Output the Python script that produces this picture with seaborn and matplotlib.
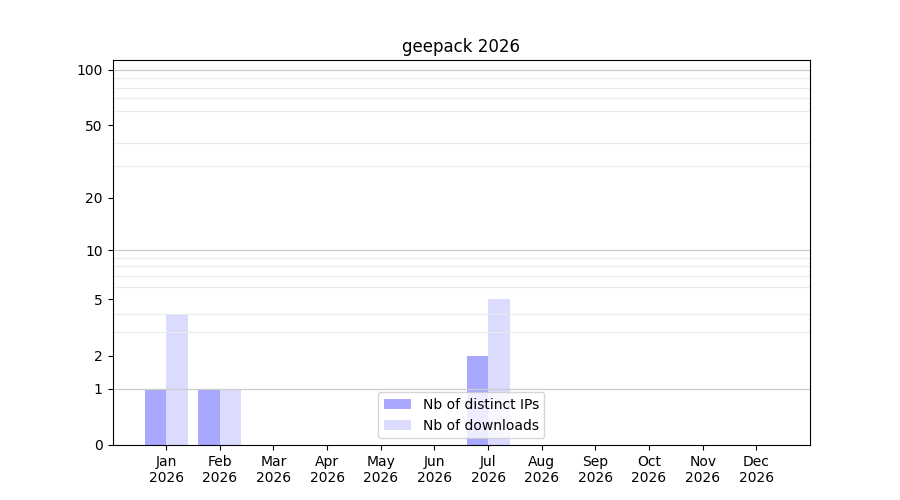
import numpy as np
import pandas as pd
import matplotlib
matplotlib.use("Agg")
import matplotlib.pyplot as plt
import seaborn as sns

months = ['Jan', 'Feb', 'Mar', 'Apr', 'May', 'Jun', 'Jul', 'Aug', 'Sep', 'Oct', 'Nov', 'Dec']
year = 2026
distinct_ips = [1, 1, 0, 0, 0, 0, 2, 0, 0, 0, 0, 0]
downloads = [4, 1, 0, 0, 0, 0, 5, 0, 0, 0, 0, 0]
series_names = ['Nb of distinct IPs', 'Nb of downloads']

ytick_values = [0, 1, 2, 5, 10, 20, 50, 100]
minor_values = [2, 3, 4, 5, 6, 7, 8, 9, 20, 30, 40, 50, 60, 70, 80, 90]
major_lines = [1, 10, 100]

df = pd.DataFrame({
    'month': months * 2,
    'metric': [series_names[0]] * 12 + [series_names[1]] * 12,
    'value': distinct_ips + downloads,
})

fig, ax = plt.subplots(figsize=(9, 5), dpi=100)

sns.barplot(data=df, x='month', y='value', hue='metric', order=months,
            hue_order=series_names, palette=['blue', 'blue'], saturation=1,
            errorbar=None, width=0.8, linewidth=0, legend=False, ax=ax)

# translucent blue, like the original
for cont, a in zip(ax.containers, [0.34, 0.14]):
    for p in cont:
        p.set_alpha(a)

ax.set_yscale('function', functions=(lambda v: np.log10(1 + np.maximum(v, -0.999)),
                                     lambda v: 10 ** v - 1))
ax.set_ylim(0, 113)
ax.set_yticks(ytick_values)
ax.set_yticklabels([str(v) for v in ytick_values])
ax.set_yticks(minor_values, minor=True)
ax.tick_params(axis='y', which='minor', length=0)
ax.grid(True, axis='y', which='minor', color='#ebebeb', linewidth=0.8)
for v in major_lines:
    ax.axhline(v, color='#cccccc', linewidth=0.9, zorder=1.5)

ax.set_xlim(-1, 12)
ax.set_xticks(range(len(months)))
ax.set_xticklabels([f'{m}\n{year}' for m in months])
ax.set_xlabel('')
ax.set_ylabel('')
ax.set_title(f'geepack {year}')

ax.legend(ax.containers, series_names, loc='lower center')

plt.savefig('out.png', dpi=100)
